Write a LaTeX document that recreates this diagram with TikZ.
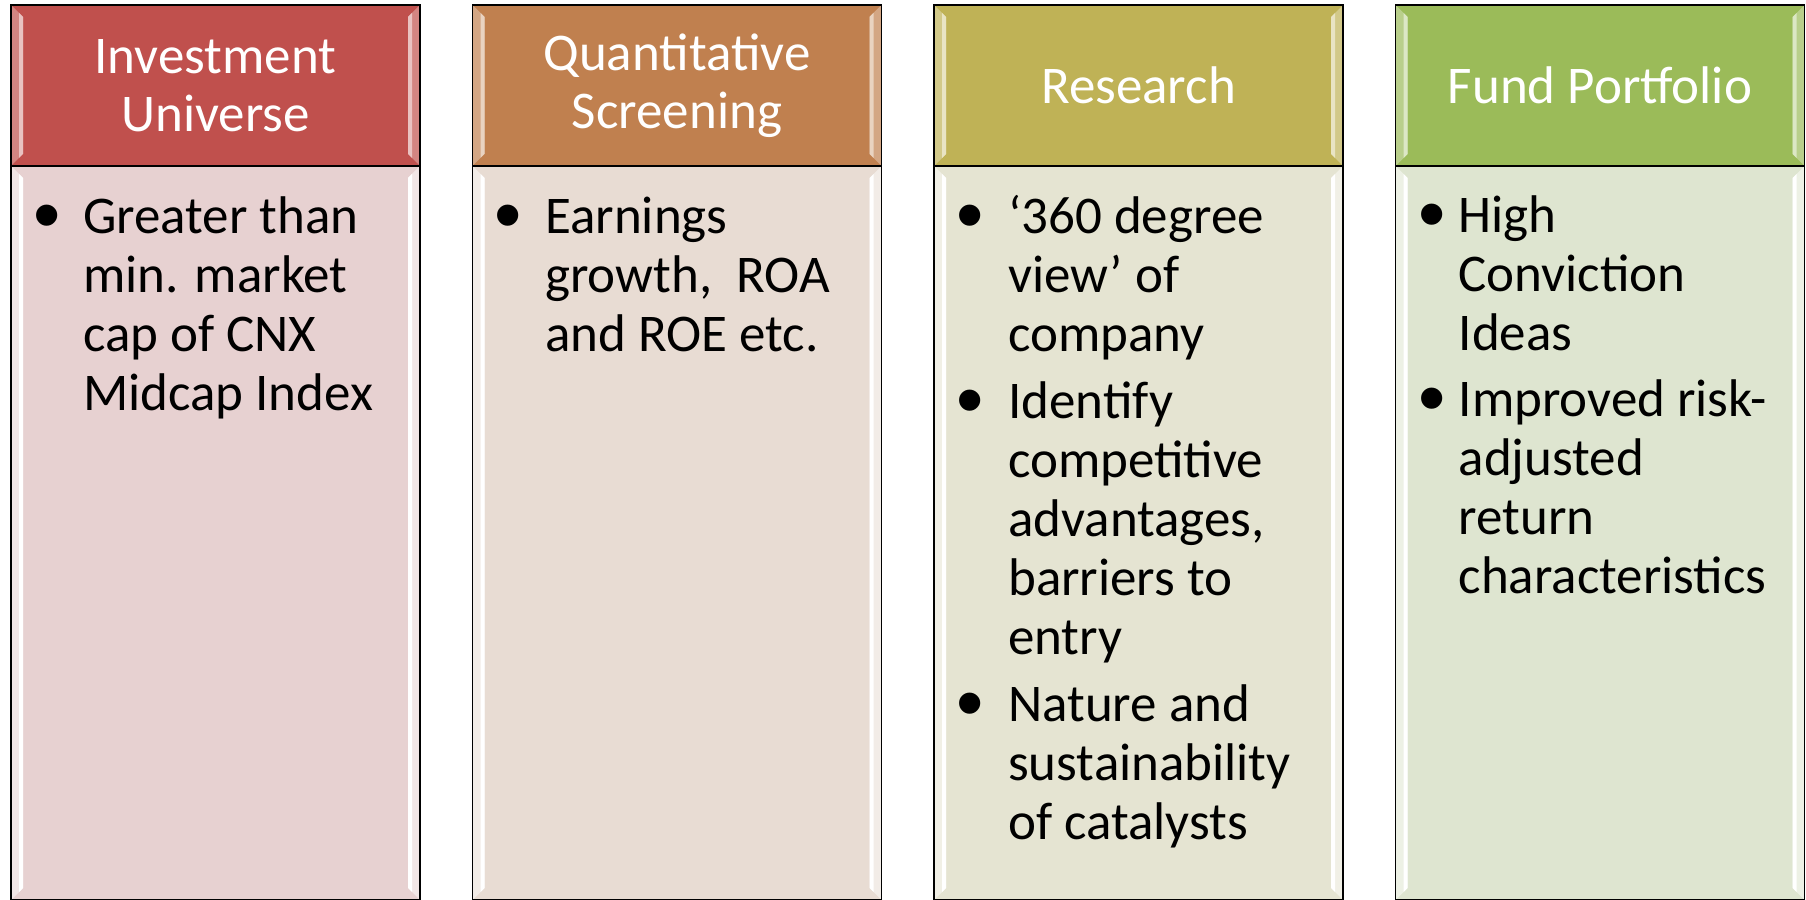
\documentclass[tikz,border=0pt]{standalone}
\usepackage{fontspec}
\setmainfont{Carlito}
\newfontfamily\bulfont{Liberation Sans}
\usepackage{tikz}
\usetikzlibrary{positioning}

\definecolor{hdA}{HTML}{C0504D}
\definecolor{hdB}{HTML}{C0804F}
\definecolor{hdC}{HTML}{BFB256}
\definecolor{hdD}{HTML}{9BBB59}
\definecolor{bdA}{HTML}{E7D1D1}
\definecolor{bdB}{HTML}{E8DCD3}
\definecolor{bdC}{HTML}{E5E4D2}
\definecolor{bdD}{HTML}{DEE5D0}

\newcommand{\bul}{\raisebox{-8pt}{\bulfont\fontsize{78}{59}\selectfont\symbol{"2022}}}

% light edges on both sides of a box, then its frame
\newcommand{\bevel}[3]{
  \fill [#2] (#1.north west) -- ([xshift = 12pt, yshift = -12pt] #1.north west)
    -- ([xshift = 12pt, yshift = 12pt] #1.south west) -- (#1.south west) -- cycle;
  \fill [#3] ([xshift = 8pt, yshift = -8pt] #1.north west) -- ([xshift = 12pt, yshift = -12pt] #1.north west)
    -- ([xshift = 12pt, yshift = 12pt] #1.south west) -- ([xshift = 8pt, yshift = 8pt] #1.south west) -- cycle;
  \fill [#2] (#1.north east) -- ([xshift = -12pt, yshift = -12pt] #1.north east)
    -- ([xshift = -12pt, yshift = 12pt] #1.south east) -- (#1.south east) -- cycle;
  \fill [#3] ([xshift = -8pt, yshift = -8pt] #1.north east) -- ([xshift = -12pt, yshift = -12pt] #1.north east)
    -- ([xshift = -12pt, yshift = 12pt] #1.south east) -- ([xshift = -8pt, yshift = 8pt] #1.south east) -- cycle;
  \draw [line width = 1.5pt] (#1.north west) rectangle (#1.south east);
}

\tikzset{
  box/.style = {rectangle, outer sep = 0, inner sep = 0, minimum width = 409pt},
  head/.style = {box, fill = #1, minimum height = 161pt, text = white, align = center,
    font = \fontsize{53}{58}\selectfont},
  body/.style = {box, fill = #1, minimum height = 734pt},
  txt/.style = {anchor = base west, inner sep = 0, font = \fontsize{53}{59}\selectfont}
}

\begin{document}
\begin{tikzpicture}[x = 1pt, y = 1pt]
    \clip (0, 0) rectangle (1806, 899);

    % headers
    \node [head = hdA] (univ) at (215.5, 813.5) {Investment\\Universe};
    \node [head = hdB] (screen) at (677, 813.5) {Quantitative\\Screening};
    \node [head = hdC] (research) at (1138.5, 813.5) {Research};
    \node [head = hdD] (fund) at (1600, 813.5) {Fund Portfolio};

    % bodies
    \node [body = bdA, below = 0pt of univ] (univBody) {};
    \node [body = bdB, below = 0pt of screen] (screenBody) {};
    \node [body = bdC, below = 0pt of research] (researchBody) {};
    \node [body = bdD, below = 0pt of fund] (fundBody) {};

    \bevel{univ}{white!30!hdA}{white!65!hdA}
    \bevel{screen}{white!30!hdB}{white!65!hdB}
    \bevel{research}{white!30!hdC}{white!65!hdC}
    \bevel{fund}{white!30!hdD}{white!65!hdD}
    \bevel{univBody}{white!45!bdA}{white}
    \bevel{screenBody}{white!45!bdB}{white}
    \bevel{researchBody}{white!45!bdC}{white}
    \bevel{fundBody}{white!45!bdD}{white}

    \node [txt] (univText) at (33, 665) {\begin{tabular}[t]{@{}p{50pt}@{}l@{}}
      \bul & Greater than\\
           & min. market\\
           & cap of CNX\\
           & Midcap Index
    \end{tabular}};

    \node [txt] (screenText) at (494.5, 665) {\begin{tabular}[t]{@{}p{50.5pt}@{}l@{}}
      \bul & Earnings\\
           & growth,\ \ ROA\\
           & and ROE etc.
    \end{tabular}};

    \node [txt] (researchText) at (956, 665) {\begin{tabular}[t]{@{}p{52pt}@{}l@{}}
      \bul & `360 degree\\
           & view' of\\
           & company\\[8pt]
      \bul & Identify\\
           & competitive\\
           & advantages,\\
           & barriers to\\
           & entry\\[8pt]
      \bul & Nature and\\
           & sustainability\\
           & of catalysts
    \end{tabular}};

    \node [txt] (fundText) at (1418, 666) {\begin{tabular}[t]{@{}p{40.5pt}@{}l@{}}
      \bul & High\\
           & Conviction\\
           & Ideas\\[7pt]
      \bul & Improved risk-\\
           & adjusted\\
           & return\\
           & characteristics
    \end{tabular}};
\end{tikzpicture}
\end{document}
